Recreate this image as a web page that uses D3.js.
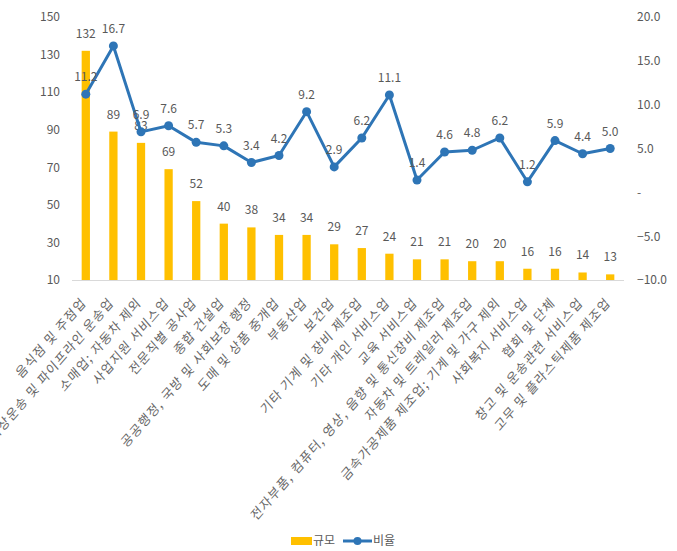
<!DOCTYPE html>
<html><head><meta charset="utf-8">
<script src="https://cdn.jsdelivr.net/npm/d3@7"></script>
<style>
body{margin:0;background:#fff;}
text{font-family:"Noto Sans CJK KR","Noto Sans",sans-serif;}
</style></head>
<body><svg id="c" width="677" height="551"></svg>
<script>
const categories = ["음식점 및 주점업","육상운송 및 파이프라인 운송업","소매업; 자동차 제외","사업지원 서비스업","전문직별 공사업","종합 건설업","공공행정, 국방 및 사회보장 행정","도매 및 상품 중개업","부동산업","보건업","기타 기계 및 장비 제조업","기타 개인 서비스업","교육 서비스업","전자부품, 컴퓨터, 영상, 음향 및 통신장비 제조업","자동차 및 트레일러 제조업","금속가공제품 제조업; 기계 및 가구 제외","사회복지 서비스업","협회 및 단체","창고 및 운송관련 서비스업","고무 및 플라스틱제품 제조업"];
const scaleValues = [132,89,83,69,52,40,38,34,34,29,27,24,21,21,20,20,16,16,14,13];
const ratioValues = [11.2,16.7,6.9,7.6,5.7,5.3,3.4,4.2,9.2,2.9,6.2,11.1,1.4,4.6,4.8,6.2,1.2,5.9,4.4,5.0];
const leftTicks = [10,30,50,70,90,110,130,150];
const rightTicks = [20,15,10,5,0,-5,-10];
const legendLabels = ["규모","비율"];

const svg = d3.select("#c");
const pTop = 17, pBottom = 280, pLeft = 72, pRight = 624;
const x = d3.scaleBand().domain(categories).range([pLeft,pRight]).paddingInner(0.7).paddingOuter(0.35);
const yL = d3.scaleLinear().domain([10,150]).range([pBottom,pTop]);
const yR = d3.scaleLinear().domain([-10,20]).range([pBottom,pTop]);
const yellow = "#FFC000", blue = "#2E75B6", gray = "#595959";

// left axis
const axL = svg.append("g").attr("transform",`translate(${pLeft},0)`)
  .call(d3.axisLeft(yL).tickValues(leftTicks).tickSize(0).tickPadding(12));
axL.select(".domain").remove();
axL.selectAll("text").attr("fill",gray).style("font-size","12px").style("font-family","'Noto Sans CJK KR'");

// right axis
const axR = svg.append("g").attr("transform",`translate(${pRight},0)`)
  .call(d3.axisRight(yR).tickValues(rightTicks).tickSize(0).tickPadding(13)
    .tickFormat(d => d===0 ? "-" : d3.format(".1f")(d)));
axR.select(".domain").remove();
axR.selectAll("text").attr("fill",gray).style("font-size","12px").style("font-family","'Noto Sans CJK KR'");

// baseline
svg.append("line").attr("x1",pLeft).attr("x2",pRight).attr("y1",pBottom+0.5).attr("y2",pBottom+0.5)
  .attr("stroke","#D9D9D9").attr("stroke-width",1);

// bars
svg.append("g").selectAll("rect").data(scaleValues).join("rect")
  .attr("x",(d,i)=>x(categories[i]))
  .attr("width",x.bandwidth())
  .attr("y",d=>yL(d))
  .attr("height",d=>pBottom-yL(d))
  .attr("fill",yellow);

svg.append("g").selectAll("text").data(scaleValues).join("text")
  .attr("x",(d,i)=>x(categories[i])+x.bandwidth()/2)
  .attr("y",d=>yL(d)-13)
  .attr("text-anchor","middle").attr("fill",gray).style("font-size","12px")
  .text(d=>d);

// line
const cx = i => x(categories[i])+x.bandwidth()/2;
const line = d3.line().x((d,i)=>cx(i)).y(d=>yR(d));
svg.append("path").datum(ratioValues).attr("d",line)
  .attr("fill","none").attr("stroke",blue).attr("stroke-width",3).attr("stroke-linejoin","round");
svg.append("g").selectAll("circle").data(ratioValues).join("circle")
  .attr("cx",(d,i)=>cx(i)).attr("cy",d=>yR(d)).attr("r",4.5).attr("fill",blue);
svg.append("g").selectAll("text").data(ratioValues).join("text")
  .attr("x",(d,i)=>cx(i))
  .attr("y",d=>yR(d)-13)
  .attr("text-anchor","middle").attr("fill",gray).style("font-size","12px")
  .text(d=>d3.format(".1f")(d));

// category labels
svg.append("g").selectAll("text").data(categories).join("text")
  .attr("transform",(d,i)=>`translate(${cx(i)-2},${pBottom+20}) scale(1,1.15) rotate(-45)`)
  .attr("text-anchor","end").attr("dy","0.35em")
  .attr("fill","#666").style("font-size","12px").style("letter-spacing","1.15px")
  .text(d=>d);

// legend
const lg = svg.append("g").attr("transform","translate(291,541)");
lg.append("rect").attr("x",0).attr("y",-4).attr("width",21).attr("height",8).attr("fill",yellow);
lg.append("text").attr("x",22).attr("y",0).attr("dy","0.35em").attr("fill",gray).style("font-size","12px").text(legendLabels[0]);
lg.append("line").attr("x1",52).attr("x2",81).attr("y1",0).attr("y2",0).attr("stroke",blue).attr("stroke-width",3);
lg.append("circle").attr("cx",66.5).attr("cy",0).attr("r",4).attr("fill",blue);
lg.append("text").attr("x",82).attr("y",0).attr("dy","0.35em").attr("fill",gray).style("font-size","12px").text(legendLabels[1]);
</script></body></html>
